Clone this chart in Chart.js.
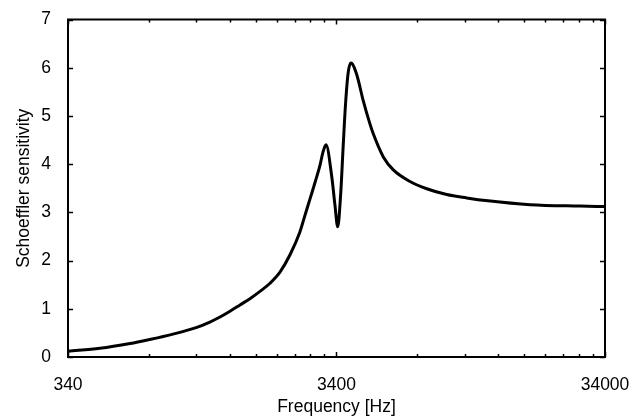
<!DOCTYPE html>
<html>
<head>
<meta charset="utf-8">
<script src="https://cdn.jsdelivr.net/npm/chart.js@4/dist/chart.umd.min.js"></script>
<style>
  html, body { margin: 0; padding: 0; background: #ffffff; }
  canvas { display: block; }
</style>
</head>
<body>
<canvas id="c" width="641" height="417"></canvas>
<script>
// Frequency [Hz] (log axis) and Schoeffler sensitivity
const frequencies = [340, 447, 579, 680, 830, 1020, 1142, 1252, 1364, 1486, 1619, 1764, 1922, 2094, 2282, 2486, 2595, 2709, 2828, 2952, 3028, 3108, 3263, 3357, 3435, 3526, 3604, 3680, 3763, 3849, 4043, 4278, 4532, 4661, 5080, 5535, 6387, 7372, 8749, 10384, 12466, 17870, 27440, 34000];
const sensitivity = [0.12, 0.18, 0.28, 0.36, 0.47, 0.61, 0.72, 0.83, 0.95, 1.08, 1.21, 1.36, 1.53, 1.76, 2.12, 2.60, 2.94, 3.28, 3.62, 3.98, 4.25, 4.40, 3.75, 3.14, 2.70, 3.40, 4.42, 5.31, 5.92, 6.10, 5.86, 5.31, 4.83, 4.63, 4.15, 3.88, 3.64, 3.49, 3.37, 3.30, 3.24, 3.16, 3.13, 3.12];

const xTickValues = [340, 680, 1020, 1360, 1700, 2040, 2380, 2720, 3060, 3400, 6800, 10200, 13600, 17000, 20400, 23800, 27200, 30600, 34000];
const xTickLabels = [340, 3400, 34000];
const yTickValues = [0, 1, 2, 3, 4, 5, 6, 7];

const FONT = "'Liberation Sans', Arial, Helvetica, sans-serif";

const framePlugin = {
  id: 'frame',
  afterDraw(chart) {
    const { ctx, chartArea: { left, right, top, bottom }, scales: { x, y } } = chart;
    ctx.save();
    ctx.strokeStyle = '#000';
    ctx.lineWidth = 1.5;
    ctx.beginPath();
    xTickValues.forEach(v => {
      const px = Math.round(x.getPixelForValue(v)) + 0.5;
      const len = xTickLabels.includes(v) ? 5 : 3;
      ctx.moveTo(px, bottom); ctx.lineTo(px, bottom - len);
      ctx.moveTo(px, top); ctx.lineTo(px, top + len);
    });
    yTickValues.forEach(v => {
      const py = Math.round(y.getPixelForValue(v)) + 0.5;
      ctx.moveTo(left, py); ctx.lineTo(left + 5, py);
      ctx.moveTo(right, py); ctx.lineTo(right - 5, py);
    });
    ctx.stroke();
    ctx.lineWidth = 2;
    ctx.strokeRect(left, top, right - left, bottom - top);
    ctx.restore();
  }
};

new Chart(document.getElementById('c'), {
  type: 'line',
  data: {
    datasets: [{
      data: frequencies.map((f, i) => ({ x: f, y: sensitivity[i] })),
      borderColor: '#000',
      borderWidth: 3,
      pointRadius: 0,
      fill: false,
      cubicInterpolationMode: 'monotone'
    }]
  },
  options: {
    responsive: false,
    animation: false,
    devicePixelRatio: 1,
    layout: { padding: { top: 14, right: 36, left: 0, bottom: 0 } },
    plugins: { legend: { display: false }, tooltip: { enabled: false } },
    scales: {
      x: {
        type: 'logarithmic',
        min: 340,
        max: 34000,
        afterBuildTicks: (scale) => { scale.ticks = xTickValues.map(v => ({ value: v })); },
        afterFit: (scale) => { scale.height = 60; },
        grid: { display: false },
        border: { display: false },
        ticks: {
          autoSkip: false,
          maxRotation: 0,
          padding: 10,
          color: '#000',
          font: { family: FONT, size: 17.5 },
          callback: (v) => xTickLabels.includes(v) ? String(v) : ''
        },
        title: {
          display: true,
          text: 'Frequency [Hz]',
          color: '#000',
          font: { family: FONT, size: 17.5, lineHeight: 1.1 },
          padding: { top: 0, bottom: 0 }
        }
      },
      y: {
        min: 0,
        max: 7,
        afterBuildTicks: (scale) => { scale.ticks = yTickValues.map(v => ({ value: v })); },
        afterFit: (scale) => { scale.width = 68; },
        grid: { display: false },
        border: { display: false },
        ticks: {
          padding: 9,
          color: '#000',
          font: { family: FONT, size: 17.5 }
        },
        title: {
          display: true,
          text: 'Schoeffler sensitivity',
          color: '#000',
          font: { family: FONT, size: 17.5, lineHeight: 1.1 },
          padding: { top: 15, bottom: 0 }
        }
      }
    }
  },
  plugins: [framePlugin]
});
</script>
</body>
</html>
